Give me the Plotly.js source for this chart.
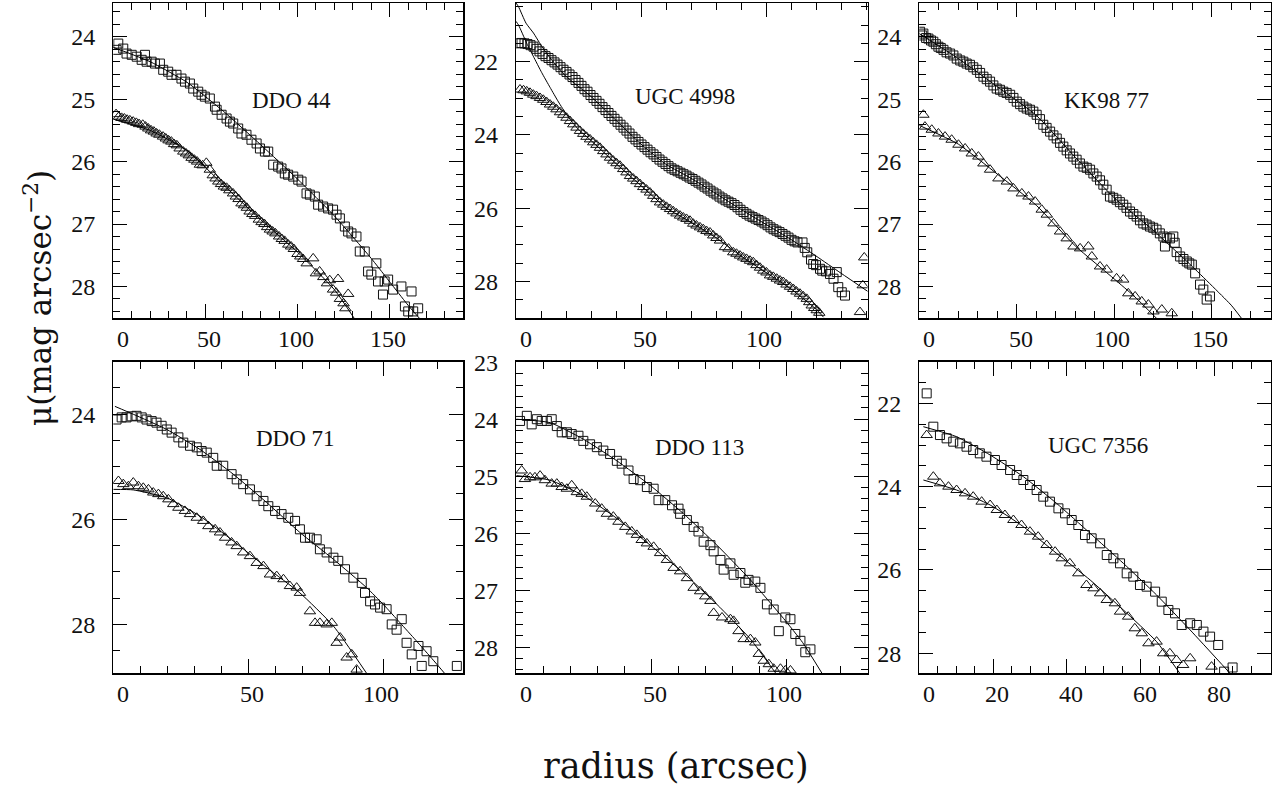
<!DOCTYPE html>
<html><head><meta charset="utf-8">
<script src="https://cdn.plot.ly/plotly-3.0.1.min.js"></script>
<style>html,body{margin:0;padding:0;background:#fff;}#chart{width:1275px;height:786px;}</style>
</head><body><div id="chart"></div>
<script>
// ---------------- DATA (radius in arcsec, mu in mag/arcsec^2) ----------------
const panelNames = ["DDO 44", "UGC 4998", "KK98 77", "DDO 71", "DDO 113", "UGC 7356"];

const ddo44_squares = [[1.8,24.21],[2.7,24.11],[5.4,24.19],[7.2,24.27],[10,24.29],[12.7,24.32],[15.4,24.37],[17.2,24.29],[18.1,24.4],[20.8,24.4],[22.6,24.43],[25.3,24.43],[27.1,24.53],[29.8,24.56],[31.6,24.61],[34.3,24.61],[37,24.67],[38.9,24.72],[41.6,24.75],[43.4,24.83],[46.1,24.88],[47.9,24.93],[49.7,24.96],[52.4,24.99],[55.2,25.12],[56.1,25.17],[58.8,25.25],[61.5,25.31],[63.3,25.36],[65.1,25.39],[67.8,25.47],[69.6,25.55],[72.3,25.57],[75,25.65],[77.8,25.71],[79.6,25.79],[82.3,25.84],[84.1,25.84],[86.8,26.05],[89.5,26.08],[91.3,26.11],[93.1,26.19],[94.9,26.21],[97.7,26.24],[100.4,26.29],[102.2,26.32],[104.9,26.51],[106.7,26.53],[109.4,26.56],[111.2,26.69],[113.9,26.72],[116.6,26.75],[119.3,26.77],[121.2,26.85],[123,26.91],[125.7,27.04],[127.5,27.12],[129.3,27.15],[132,27.2],[133.8,27.44],[136.5,27.44],[138.3,27.76],[140.1,27.81],[142.8,27.63],[143.7,27.92],[146.4,28.13],[147.3,27.92],[149.2,27.89],[151.9,28.05],[156.4,28.0],[158.3,28.32],[160.1,28.4],[161.9,28.08],[162.8,28.4],[165.5,28.35]];
const ddo44_triangles = [[1.5,25.24],[3,25.28],[4.5,25.3],[6,25.31],[7.5,25.33],[9,25.34],[10.8,25.36],[12.5,25.38],[14,25.4],[16,25.41],[17.5,25.44],[19,25.47],[20.5,25.5],[22,25.52],[23.5,25.55],[25,25.57],[27,25.6],[28.5,25.63],[30,25.66],[31.5,25.68],[33,25.72],[34.5,25.74],[36,25.79],[38,25.84],[39.5,25.87],[41,25.9],[42.5,25.94],[44,25.97],[45.5,26.0],[47,26.05],[48.5,26.06],[50.5,26.02],[52.4,26.13],[54,26.22],[55.5,26.27],[57,26.32],[58.5,26.36],[60,26.4],[61.5,26.42],[63,26.46],[65,26.51],[66.5,26.56],[68,26.6],[69.6,26.67],[71,26.7],[72.5,26.74],[74,26.8],[75.5,26.84],[77,26.87],[79,26.93],[80.5,26.97],[82,27.0],[83.5,27.05],[85,27.09],[86.5,27.12],[88,27.15],[90,27.2],[91.5,27.24],[93,27.27],[95,27.33],[96.5,27.36],[98,27.4],[100,27.48],[101.5,27.52],[103,27.56],[105,27.63],[108.5,27.55],[110,27.79],[112,27.76],[114,27.85],[116,27.95],[117.5,27.9],[119.3,28.05],[121,28.1],[122,27.88],[123,28.2],[125,28.27],[127.5,28.12],[126,28.35]];
const ddo44_fitUpper = [[0,24.17],[20,24.4],[40,24.73],[60,25.2],[80,25.73],[100,26.28],[120,26.87],[140,27.55],[160,28.3],[166.5,28.52]];
const ddo44_fitLower = [[0,25.32],[20,25.5],[40,25.82],[60,26.38],[80,26.93],[100,27.45],[120,28.05],[131,28.52]];

const ugc4998_squares = [[1.0,21.5],[2.2,21.49],[3.4,21.5],[4.6,21.52],[5.8,21.55],[7.0,21.59],[8.2,21.65],[9.4,21.72],[10.6,21.79],[11.8,21.85],[13.0,21.9],[14.2,21.96],[15.4,22.02],[16.6,22.08],[17.8,22.15],[19.0,22.22],[20.2,22.28],[21.4,22.35],[22.6,22.42],[23.8,22.5],[25.0,22.58],[26.2,22.66],[27.4,22.75],[28.6,22.82],[29.8,22.91],[31.0,22.99],[32.2,23.07],[33.4,23.15],[34.6,23.24],[35.8,23.32],[37.0,23.4],[38.2,23.48],[39.4,23.56],[40.6,23.64],[41.8,23.72],[43.0,23.8],[44.2,23.88],[45.4,23.96],[46.6,24.05],[47.8,24.12],[49.0,24.19],[50.2,24.26],[51.4,24.33],[52.6,24.4],[53.8,24.47],[55.0,24.53],[56.2,24.6],[57.4,24.67],[58.6,24.73],[59.8,24.79],[61.0,24.85],[62.2,24.91],[63.4,24.95],[64.6,24.99],[65.8,25.03],[67.0,25.07],[68.2,25.11],[69.4,25.16],[70.6,25.2],[71.8,25.25],[73.0,25.3],[74.2,25.35],[75.4,25.41],[76.6,25.46],[77.8,25.52],[79.0,25.57],[80.2,25.62],[81.4,25.68],[82.6,25.73],[83.8,25.78],[85.0,25.82],[86.2,25.86],[87.4,25.91],[88.6,25.97],[89.8,26.04],[91.0,26.1],[92.2,26.15],[93.4,26.2],[94.6,26.24],[95.8,26.28],[97.0,26.32],[98.2,26.36],[99.4,26.41],[100.6,26.46],[101.8,26.52],[103.0,26.57],[104.2,26.61],[105.4,26.65],[106.6,26.7],[107.8,26.75],[109.0,26.8],[110.2,26.86],[111.4,26.9],[112.6,26.93],[114.6,26.93],[115.5,27.08],[116.5,27.2],[118.0,27.4],[118.9,27.52],[120.0,27.55],[121.6,27.65],[122.5,27.7],[124.0,27.72],[125.6,27.79],[127.0,27.92],[128.3,27.74],[128.9,28.15],[130.3,28.29],[131.6,28.38]];
const ugc4998_triangles = [[1.6,22.76],[3.0,22.78],[4.3,22.81],[5.6,22.85],[6.9,22.9],[8.2,22.94],[9.6,22.99],[10.9,23.04],[12.2,23.1],[13.6,23.17],[14.9,23.23],[16.2,23.3],[17.6,23.38],[18.9,23.45],[20.2,23.53],[21.6,23.62],[22.9,23.71],[24.2,23.8],[25.6,23.89],[26.9,23.97],[28.2,24.05],[29.6,24.12],[30.9,24.2],[32.2,24.27],[33.6,24.35],[34.9,24.44],[36.2,24.53],[37.6,24.62],[38.9,24.7],[40.2,24.77],[41.6,24.84],[42.9,24.93],[44.2,25.02],[45.6,25.12],[46.9,25.19],[48.2,25.26],[49.6,25.34],[50.9,25.42],[52.2,25.49],[53.6,25.57],[54.9,25.66],[56.2,25.75],[57.6,25.84],[58.9,25.9],[60.2,25.96],[61.6,26.02],[62.9,26.08],[64.2,26.14],[65.6,26.2],[66.9,26.25],[68.2,26.29],[69.6,26.34],[70.9,26.42],[72.2,26.47],[73.6,26.52],[74.9,26.57],[76.2,26.62],[77.6,26.66],[78.9,26.74],[80.2,26.81],[81.6,26.88],[83.6,27.06],[85.0,27.1],[86.9,27.2],[88.2,27.24],[89.6,27.29],[90.9,27.34],[92.2,27.38],[93.6,27.43],[94.9,27.47],[96.2,27.55],[97.6,27.62],[98.9,27.7],[100.2,27.75],[101.6,27.83],[102.9,27.87],[104.3,27.92],[105.6,27.97],[106.9,28.01],[108.2,28.08],[109.6,28.14],[110.9,28.2],[112.2,28.27],[113.6,28.33],[114.9,28.4],[116.3,28.47],[117.3,28.56],[118.3,28.65],[119.3,28.72],[120.3,28.78],[121.3,28.85],[137.6,28.83],[138.7,28.1],[139.3,27.34]];
const ugc4998_fitUpper = [[0,20.4],[1,20.5],[4,20.95],[7,21.22],[10,21.55],[14,21.93],[20,22.4],[30,22.95],[40,23.6],[50,24.25],[60,24.8],[70,25.18],[80,25.6],[90,26.03],[100,26.44],[110,26.85],[120,27.3],[130,27.77],[141,28.28]];
const ugc4998_fitLower = [[0,20.9],[1,21.0],[4.3,21.5],[6.9,21.85],[10.3,22.3],[13.6,22.7],[17,23.1],[20.3,23.45],[25,23.85],[30,24.15],[40,24.78],[50,25.38],[60,25.98],[70,26.38],[80,26.8],[90,27.3],[100,27.75],[110,28.2],[120,28.75],[123,28.97]];

const kk9877_squares = [[0.4,23.92],[1.5,23.98],[2.1,23.95],[3.5,24.02],[4.7,24.03],[6.0,24.06],[7.2,24.08],[8.5,24.12],[9.8,24.16],[11.0,24.18],[12.4,24.21],[14.0,24.25],[15.8,24.27],[17.5,24.3],[19.2,24.35],[21.0,24.38],[22.6,24.4],[24.3,24.43],[26.0,24.45],[27.7,24.49],[29.5,24.53],[31.2,24.58],[32.9,24.64],[34.6,24.68],[36.3,24.72],[38.0,24.78],[39.7,24.83],[41.4,24.85],[43.1,24.88],[44.8,24.9],[46.6,24.93],[48.3,24.98],[50.0,25.04],[51.7,25.08],[53.4,25.12],[55.1,25.15],[56.8,25.17],[58.5,25.2],[60.2,25.25],[61.9,25.32],[63.6,25.41],[65.3,25.46],[67.1,25.52],[68.8,25.58],[70.5,25.63],[72.2,25.7],[73.9,25.76],[75.6,25.82],[77.3,25.87],[79.0,25.92],[80.7,25.97],[82.4,26.03],[84.2,26.08],[85.9,26.1],[87.6,26.13],[89.3,26.19],[91.0,26.24],[92.7,26.3],[94.4,26.37],[96.1,26.45],[97.8,26.56],[99.5,26.58],[101.2,26.61],[102.9,26.65],[104.6,26.69],[106.3,26.74],[108.1,26.8],[109.8,26.84],[111.5,26.88],[113.2,26.94],[114.9,26.99],[116.6,27.01],[118.3,27.04],[120.0,27.06],[121.7,27.09],[123.4,27.15],[125.2,27.2],[126.0,27.36],[126.9,27.22],[128.6,27.23],[130.3,27.2],[131.0,27.3],[132.0,27.45],[133.8,27.52],[135.5,27.56],[137.2,27.6],[138.5,27.63],[139.8,27.65],[141.5,27.79],[144.0,27.97],[145.7,28.05],[147.4,28.21],[149.1,28.16]];
const kk9877_triangles = [[2.1,25.25],[2.9,25.44],[6.4,25.49],[9.8,25.55],[13.2,25.6],[16.6,25.65],[20.1,25.73],[23.5,25.79],[26.9,25.87],[30.3,25.92],[32.9,26.03],[36.3,26.13],[40.6,26.27],[44.9,26.32],[48.3,26.43],[52.6,26.51],[56.0,26.56],[59.4,26.64],[62.8,26.77],[65.4,26.85],[68.8,26.99],[72.2,27.12],[75.6,27.23],[79.1,27.36],[82.5,27.39],[86.7,27.36],[88.5,27.52],[92.7,27.68],[96.1,27.73],[101.2,27.87],[104.6,27.89],[107.2,28.11],[110.7,28.16],[114.1,28.24],[117.5,28.29],[120.1,28.4],[124.4,28.37],[129.5,28.43]];
const kk9877_fitUpper = [[0,23.95],[20,24.35],[40,24.8],[60,25.26],[80,25.93],[100,26.58],[120,27.1],[140,27.68],[160,28.3],[165.5,28.52]];
const kk9877_fitLower = [[0,25.42],[20,25.72],[40,26.2],[60,26.7],[80,27.35],[100,27.88],[110,28.15],[122,28.52]];

const ddo71_squares = [[1.2,24.1],[3.1,24.06],[4.9,24.06],[6.8,24.04],[8.6,24.03],[10.5,24.06],[12.3,24.1],[14.2,24.13],[16,24.16],[17.9,24.22],[19.8,24.29],[21.6,24.35],[24.1,24.44],[25.9,24.54],[28.4,24.6],[30.9,24.63],[32.7,24.7],[34.6,24.73],[37,24.83],[38.3,24.98],[40.7,24.98],[43.8,25.14],[45.7,25.24],[48.1,25.33],[50.6,25.43],[53.1,25.56],[55.6,25.65],[57.4,25.75],[59.9,25.84],[62.3,25.9],[64.8,25.97],[67.3,26.03],[69.1,26.19],[71,26.35],[72.8,26.35],[75.3,26.38],[76.5,26.57],[79,26.63],[81.5,26.73],[83.3,26.79],[85.8,26.95],[88.9,27.11],[92,27.21],[93.2,27.4],[95.1,27.56],[96.9,27.62],[98.8,27.68],[101.2,27.71],[103.1,28.0],[104.9,28.1],[106.8,27.9],[108.6,28.35],[110.5,28.57],[113,28.41],[114.2,28.79],[116,28.51],[118.5,28.7],[127.2,28.79]];
const ddo71_triangles = [[1.9,25.27],[3.7,25.33],[5.6,25.37],[7.4,25.3],[9.3,25.37],[11.1,25.4],[13,25.43],[14.8,25.49],[16.7,25.52],[18.5,25.56],[20.4,25.62],[22.2,25.71],[24.1,25.78],[26.5,25.84],[28.4,25.9],[30.9,25.97],[33.3,26.03],[35.2,26.13],[37.7,26.19],[39.5,26.25],[41.4,26.35],[43.8,26.44],[45.7,26.51],[48.1,26.63],[50.6,26.7],[53.1,26.83],[55.6,26.89],[58,27.05],[60.5,27.08],[63,27.14],[65.4,27.27],[67.9,27.3],[69.1,27.4],[72.8,27.75],[74.7,27.97],[76.5,27.97],[79,28.0],[80.9,27.97],[82.7,28.35],[84,28.25],[86.4,28.63],[88.3,28.57],[90.1,28.86]];
const ddo71_fitUpper = [[0.6,23.85],[7.4,24.0],[19.8,24.29],[32.1,24.67],[44.4,25.14],[56.8,25.68],[69.1,26.25],[81.5,26.76],[93.8,27.3],[100,27.62],[106.2,27.97],[112,28.3],[118.5,28.68],[123,28.95]];
const ddo71_fitLower = [[0,25.43],[7.4,25.44],[19.8,25.59],[32.1,25.94],[44.4,26.41],[56.8,26.92],[69.1,27.4],[81.5,28.03],[93.8,28.93]];

const ddo113_squares = [[1.5,24.03],[4,23.94],[5.8,24.09],[7.7,24.0],[9.5,24.03],[11.4,24.03],[13.2,24.0],[15.1,24.12],[16.9,24.23],[18.8,24.23],[20.6,24.26],[23.1,24.29],[24.9,24.38],[27.4,24.44],[29.9,24.49],[32.3,24.55],[34.8,24.61],[37.3,24.73],[39.1,24.78],[41.6,24.9],[43.5,25.05],[45.9,25.07],[48.4,25.19],[50.9,25.22],[52.7,25.42],[55.2,25.42],[57.7,25.51],[60.1,25.57],[60.7,25.66],[63.2,25.77],[65.7,25.89],[67.5,25.97],[69.4,26.15],[71.9,26.21],[73.1,26.32],[75.6,26.47],[76.8,26.64],[79.3,26.53],[80.5,26.73],[83,26.7],[84.8,26.87],[86,26.82],[88.5,26.85],[90.4,26.96],[92.8,27.25],[95.3,27.34],[97.2,27.72],[99.6,27.48],[101.5,27.51],[103.3,27.77],[105.2,27.89],[107,28.09],[108.9,28.04]];
const ddo113_triangles = [[2.1,24.9],[3.3,25.05],[5.2,25.02],[7,25.02],[8.9,24.99],[10.7,25.07],[13.2,25.13],[15.1,25.13],[16.9,25.19],[18.8,25.22],[20.6,25.16],[22.5,25.28],[24.3,25.31],[26.2,25.36],[29.3,25.48],[31.7,25.57],[33.6,25.66],[36,25.71],[37.9,25.8],[40.4,25.89],[42.8,25.97],[44.7,26.03],[46.5,26.12],[48.4,26.18],[50.9,26.24],[53.3,26.35],[55.8,26.47],[58.3,26.61],[60.7,26.67],[63.2,26.79],[65.7,26.96],[68.1,27.02],[70,27.11],[71.9,27.19],[73.1,27.4],[76.2,27.48],[79.3,27.51],[80.5,27.54],[82.3,27.72],[84.2,27.86],[86.7,27.86],[88.5,27.92],[89.8,28.12],[91.6,28.24],[93.5,28.3],[95.3,28.38],[97.8,28.38],[99.6,28.41],[101.5,28.41]];
const ddo113_fitUpper = [[0.2,24.0],[12.6,24.06],[24.9,24.35],[37.3,24.73],[49.6,25.16],[62,25.66],[74.3,26.21],[86.7,26.82],[99,27.5],[106,27.92],[113.3,28.47]];
const ddo113_fitLower = [[0.2,24.99],[12.6,25.07],[24.9,25.34],[37.3,25.74],[49.6,26.21],[62,26.7],[74.3,27.25],[86.7,27.86],[96.7,28.5]];

const ugc7356_squares = [[2,21.76],[3.8,22.56],[5.6,22.76],[7.4,22.84],[9.2,22.92],[11,22.96],[12.8,23.04],[14.6,23.12],[16.4,23.2],[18.2,23.28],[20.5,23.36],[22.3,23.48],[24.6,23.6],[26.4,23.72],[28.2,23.84],[30,23.96],[31.8,24.08],[33.6,24.24],[35.4,24.36],[37.7,24.52],[39.5,24.64],[41.3,24.8],[43.1,24.92],[44.9,25.16],[46.7,25.24],[49,25.36],[50.8,25.64],[52.6,25.72],[54.4,25.84],[56.2,26.08],[58,26.16],[59.8,26.36],[61.6,26.4],[63.9,26.52],[65.7,26.76],[67.5,26.96],[69.3,27.04],[71.1,27.32],[73.4,27.28],[75.2,27.32],[77,27.48],[78.8,27.6],[81,27.8],[82.6,28.44],[84.9,28.34]];
const ugc7356_triangles = [[2,22.76],[3.8,23.76],[5.6,23.92],[7.9,24.0],[10.1,24.08],[12.4,24.16],[14.6,24.24],[16.9,24.36],[19.2,24.44],[21,24.56],[23.2,24.68],[25.5,24.8],[27.7,24.92],[30,25.08],[32.2,25.2],[34.5,25.4],[36.8,25.56],[38.6,25.72],[40.8,25.84],[43.1,26.08],[45.3,26.36],[47.2,26.44],[49,26.56],[50.8,26.72],[53,26.8],[54.4,27.0],[56.6,27.12],[58.4,27.4],[60.3,27.52],[62.1,27.76],[64.3,27.72],[66.1,28.0],[67.9,28.0],[69.7,28.16],[71.5,28.28],[73.4,28.12],[79.2,28.32]];
const ugc7356_fitUpper = [[1.1,22.56],[10.1,22.8],[19.2,23.24],[28.2,23.76],[37.2,24.4],[46.3,25.12],[55.3,25.84],[64.3,26.6],[73.4,27.44],[84.2,28.48]];
const ugc7356_fitLower = [[1.1,23.84],[10.1,24.08],[19.2,24.44],[28.2,24.96],[37.2,25.6],[46.3,26.24],[55.3,26.96],[64.3,27.72],[70.6,28.48]];

// tick labels and titles
const xTickLabels = [[0,50,100,150],[0,50,100],[0,50,100,150],[0,50,100],[0,50,100],[0,20,40,60,80]];
const xTitle = "radius (arcsec)";
const yTitle = "μ(mag arcsec<sup>−2</sup>)";

// ---------------- LAYOUT / STYLE ----------------
const W = 1275, H = 786;
const px = v => v / W, py = v => 1 - v / H;
const cols = [[113.3, 463.3], [516, 867.5], [919.3, 1270.6]];
const rows = [[3, 318.3], [361.7, 673.3]];
const axisCfg = [
  {xr:[0,190],   xd:50, xm:10, yr:[28.51,23.46], yd:1, ym:0.2},
  {xr:[0,140.6], xd:50, xm:10, yr:[29.0,20.4],   yd:2, ym:0.5},
  {xr:[0,180.2], xd:50, xm:10, yr:[28.51,23.46], yd:1, ym:0.2},
  {xr:[0,129.6], xd:50, xm:10, yr:[28.93,23.0],  yd:2, ym:0.5},
  {xr:[0,130],   xd:50, xm:10, yr:[28.46,22.99], yd:1, ym:0.2},
  {xr:[0,95.2],  xd:20, xm:5,  yr:[28.48,21.0],  yd:2, ym:0.5}
];
const namePos = [[291.7,100],[685,97],[1106.7,100],[295,438],[699,447],[1098,445]];
const series = [
  [ddo44_squares, ddo44_triangles, ddo44_fitUpper, ddo44_fitLower],
  [ugc4998_squares, ugc4998_triangles, ugc4998_fitUpper, ugc4998_fitLower],
  [kk9877_squares, kk9877_triangles, kk9877_fitUpper, kk9877_fitLower],
  [ddo71_squares, ddo71_triangles, ddo71_fitUpper, ddo71_fitLower],
  [ddo113_squares, ddo113_triangles, ddo113_fitUpper, ddo113_fitLower],
  [ugc7356_squares, ugc7356_triangles, ugc7356_fitUpper, ugc7356_fitLower]
];
const FONT = "Liberation Serif, Times New Roman, serif";
const TFONT = "DejaVu Serif, Liberation Serif, serif";
const INK = "#111";

const traces = [];
const layout = {
  width: W, height: H, margin: {l:0, r:0, t:0, b:0},
  paper_bgcolor: "#fff", plot_bgcolor: "#fff", showlegend: false,
  font: {family: FONT, color: INK}, annotations: []
};

series.forEach((s, i) => {
  const n = i + 1, sfx = n === 1 ? "" : String(n);
  const xa = "x" + sfx, ya = "y" + sfx;
  const [sq, tri, fu, fl] = s;
  traces.push({x: sq.map(p=>p[0]), y: sq.map(p=>p[1]), xaxis: xa, yaxis: ya, type: "scatter", mode: "markers",
    marker: {symbol: "square-open", size: 9, color: INK, line: {width: 1, color: INK}}, hoverinfo: "skip"});
  traces.push({x: tri.map(p=>p[0]), y: tri.map(p=>p[1]), xaxis: xa, yaxis: ya, type: "scatter", mode: "markers",
    marker: {symbol: "triangle-up-open", size: 10, color: INK, line: {width: 1, color: INK}}, hoverinfo: "skip"});
  [fu, fl].forEach(f => traces.push({x: f.map(p=>p[0]), y: f.map(p=>p[1]), xaxis: xa, yaxis: ya, type: "scatter",
    mode: "lines", line: {color: "#000", width: 1, shape: "spline", smoothing: 0.5}, hoverinfo: "skip"}));

  const c = cols[i % 3], r = rows[Math.floor(i / 3)], a = axisCfg[i];
  const common = {showline: true, mirror: "allticks", linecolor: "#000", linewidth: 1.3, ticks: "inside",
    ticklen: 14, tickwidth: 1, tickcolor: "#000", zeroline: false, showgrid: false, fixedrange: true, tick0: 0};
  layout["xaxis" + sfx] = Object.assign({}, common, {domain: [px(c[0]), px(c[1])], range: a.xr, dtick: a.xd,
    anchor: ya, showticklabels: false,
    minor: {dtick: a.xm, tick0: 0, ticklen: 7, tickwidth: 1, tickcolor: "#000", ticks: "inside", showgrid: false}});
  layout["yaxis" + sfx] = Object.assign({}, common, {domain: [py(r[1]), py(r[0])], range: a.yr, dtick: a.yd,
    anchor: xa, showticklabels: true, ticklabelstandoff: 12,
    tickfont: {family: FONT, size: 24, color: INK},
    minor: {dtick: a.ym, tick0: 0, ticklen: 7, tickwidth: 1, tickcolor: "#000", ticks: "inside", showgrid: false}});

  // x tick labels (right-aligned just past each tick, as in the original)
  xTickLabels[i].forEach(v => layout.annotations.push({xref: xa, yref: "paper", x: v, y: py(r[1]),
    xanchor: "right", yanchor: "top", xshift: 18, yshift: -6, showarrow: false, text: String(v),
    font: {family: FONT, size: 24, color: INK}}));
  // panel name
  layout.annotations.push({xref: "paper", yref: "paper", x: px(namePos[i][0]), y: py(namePos[i][1]),
    xanchor: "center", yanchor: "middle", showarrow: false, text: panelNames[i],
    font: {family: FONT, size: 23, color: INK}});
});

layout.annotations.push({xref: "paper", yref: "paper", x: px(676), y: py(766), xanchor: "center", yanchor: "middle",
  showarrow: false, text: xTitle, font: {family: TFONT, size: 35, color: INK}});
layout.annotations.push({xref: "paper", yref: "paper", x: px(38), y: py(298), xanchor: "center", yanchor: "middle",
  showarrow: false, textangle: -90, text: yTitle, font: {family: TFONT, size: 31, color: INK}});

Plotly.newPlot("chart", traces, layout, {staticPlot: true, displayModeBar: false});
</script>
</body></html>
